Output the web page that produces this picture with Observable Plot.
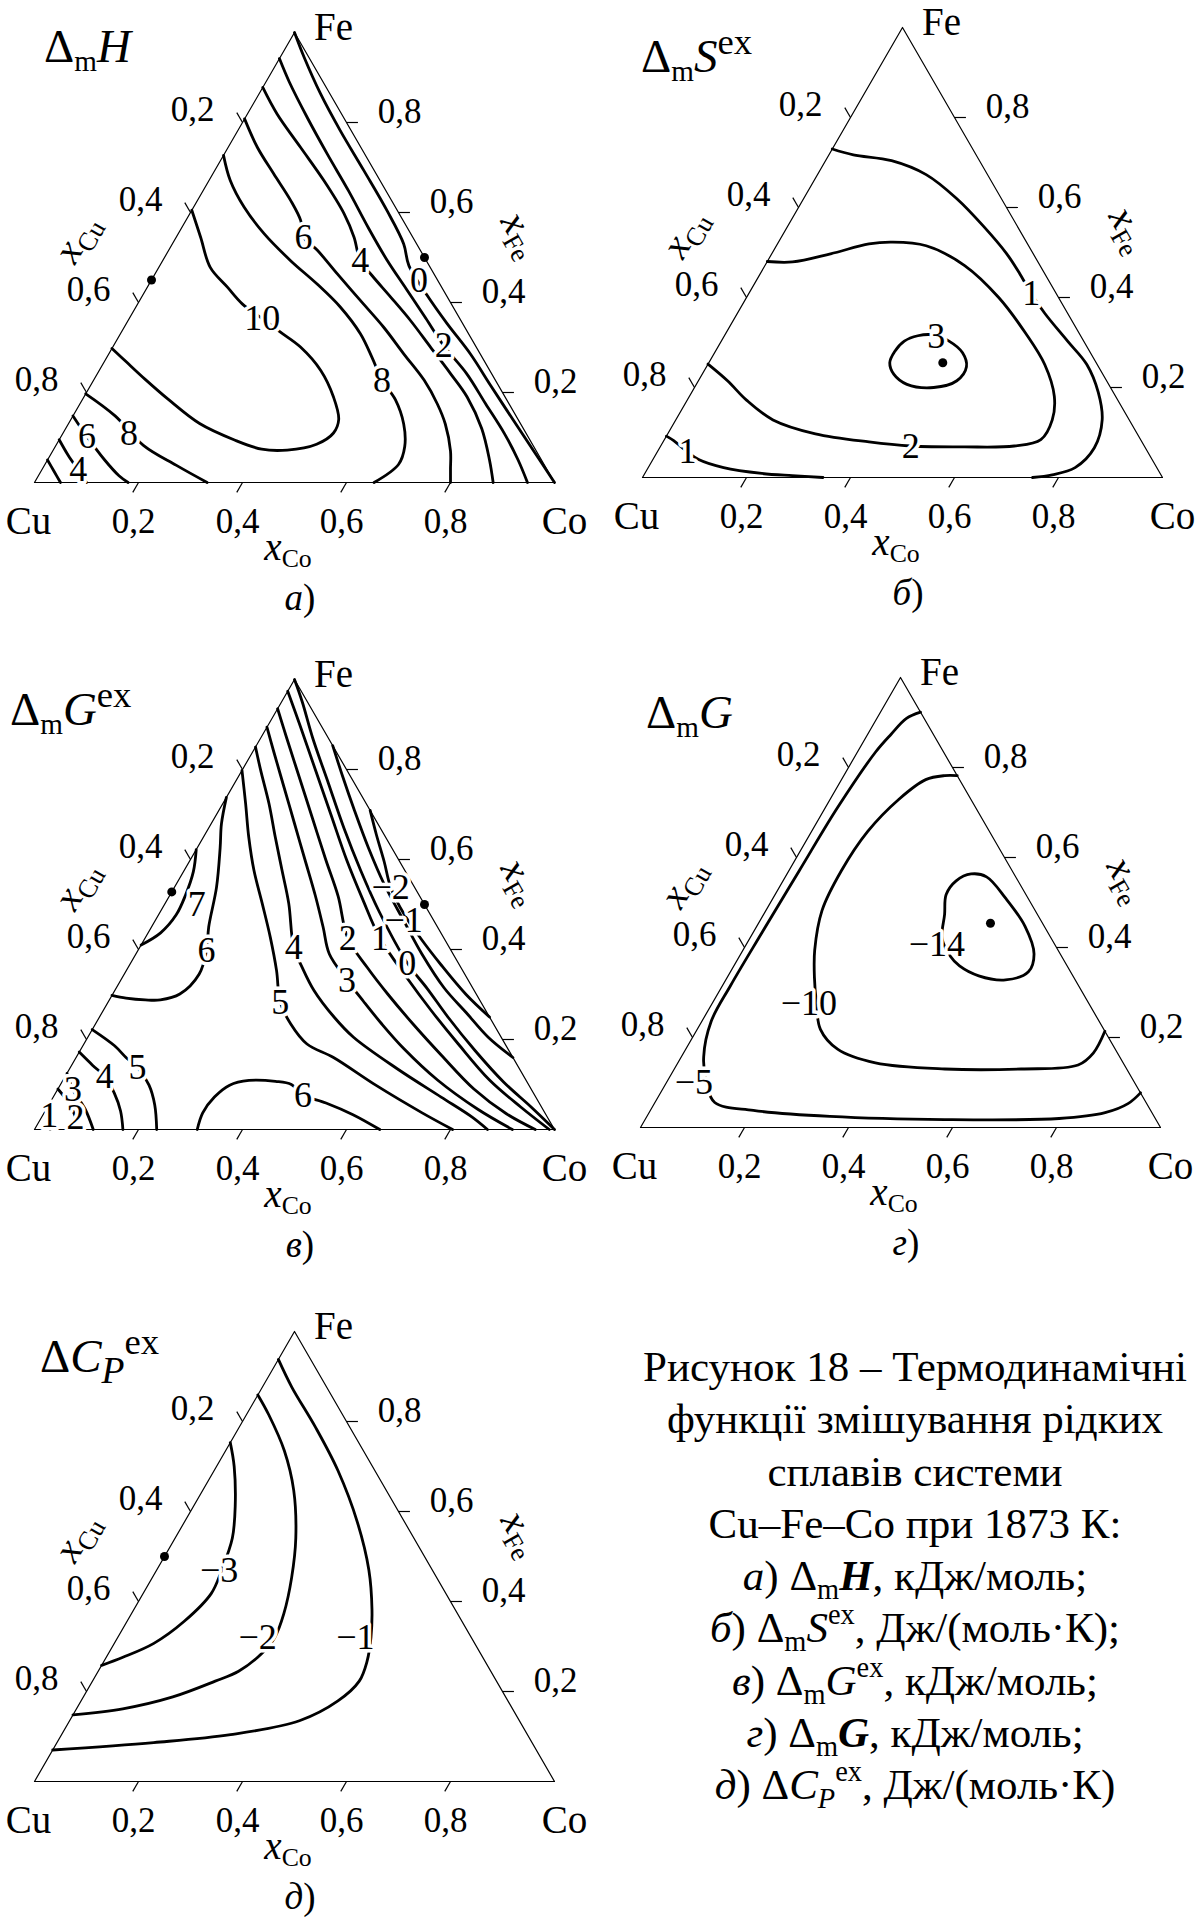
<!DOCTYPE html>
<html lang="uk">
<head>
<meta charset="utf-8">
<title>Cu–Fe–Co, 1873 K</title>
<script src="https://cdn.jsdelivr.net/npm/d3@7"></script>
<script src="https://cdn.jsdelivr.net/npm/@observablehq/plot@0.6"></script>
<style>
  html, body { margin: 0; padding: 0; background: #fff; }
  #figure { position: relative; width: 1199px; height: 1922px; overflow: hidden;
            font-family: "Liberation Serif", "Times New Roman", serif; color: #000; }
  .panel { position: absolute; width: 600px; height: 620px; }
  .panel > svg { position: absolute; left: 0; top: 0; overflow: visible; }
  .tag { position: absolute; white-space: nowrap; line-height: 1; }
  .sb { font-size: 0.66em; vertical-align: -0.3em; font-style: normal; line-height: 0; }
  .sp { font-size: 0.66em; vertical-align: 0.62em; font-style: normal; line-height: 0; }
  .ttl .sb { font-size: 0.62em; }
  .ttl .sp { font-size: 0.78em; vertical-align: 0.5em; }
  #caption { position: absolute; left: 630px; width: 570px; top: 1341px; text-align: center;
             font-size: 43px; line-height: 52.3px; white-space: nowrap; }
</style>
</head>
<body>
<div id="figure"></div>
<script>
// Axis ticks shared by every triangle
const tickValues = [0.2, 0.4, 0.6, 0.8];
const tickLabels = ["0,2", "0,4", "0,6", "0,8"];
const cornerNames = ["Cu", "Co", "Fe"];

// Every isoline is a list of [xCo, xFe] compositions (xCu = 1 − xCo − xFe)

// а) ΔmH, kJ/mol
const H_0 = [[0,1],[0.046,0.945],[0.118,0.864],[0.197,0.782],[0.287,0.693],[0.376,0.604],[0.445,0.53],[0.479,0.482],[0.547,0.416],[0.617,0.353],[0.695,0.286],[0.77,0.215],[0.85,0.14],[0.925,0.07],[1,0]];
const H_2 = [[0,0.942],[0.045,0.89],[0.12,0.81],[0.2,0.728],[0.28,0.648],[0.36,0.565],[0.43,0.495],[0.5,0.43],[0.57,0.365],[0.635,0.304],[0.71,0.242],[0.78,0.175],[0.85,0.108],[0.905,0.05],[0.948,0]];
const H_4 = [[0,0.878],[0.057,0.819],[0.139,0.745],[0.221,0.671],[0.297,0.597],[0.342,0.545],[0.38,0.493],[0.419,0.46],[0.479,0.412],[0.543,0.36],[0.611,0.301],[0.679,0.242],[0.737,0.19],[0.8,0.12],[0.85,0.05],[0.882,0]];
const H_6 = [[0,0.808],[0.056,0.745],[0.117,0.686],[0.179,0.627],[0.221,0.582],[0.245,0.545],[0.286,0.516],[0.35,0.464],[0.425,0.404],[0.499,0.345],[0.567,0.286],[0.636,0.227],[0.687,0.175],[0.725,0.13],[0.765,0.07],[0.785,0.03],[0.8,0]];
const H_8 = [[0,0.727],[0.041,0.671],[0.097,0.612],[0.165,0.553],[0.246,0.493],[0.323,0.441],[0.393,0.39],[0.462,0.33],[0.51,0.278],[0.555,0.227],[0.602,0.184],[0.645,0.13],[0.672,0.08],[0.68,0.04],[0.653,0]];
const H_10 = [[0,0.605],[0.047,0.545],[0.099,0.478],[0.154,0.434],[0.201,0.397],[0.256,0.364],[0.306,0.334],[0.361,0.301],[0.426,0.249],[0.48,0.19],[0.515,0.14],[0.52,0.11],[0.5,0.085],[0.45,0.072],[0.4,0.074],[0.336,0.095],[0.252,0.131],[0.166,0.184],[0.1,0.228],[0.044,0.267],[0,0.298]];
const H_8cu = [[0,0.197],[0.081,0.148],[0.169,0.082],[0.254,0.038],[0.332,0]];
const H_6cu = [[0,0.148],[0.05,0.102],[0.11,0.05],[0.155,0.015],[0.18,0]];
const H_4cu = [[0,0.095],[0.035,0.06],[0.07,0.028],[0.1,0]];
const H_2cu = [[0,0.05],[0.025,0.025],[0.05,0]];
const H_labels = [["0",0.515,0.449],["2",0.635,0.304],["4",0.38,0.493],["6",0.245,0.545],["8",0.555,0.227],["10",0.256,0.364],["8",0.127,0.109],["6",0.05,0.102],["4",0.07,0.028]];
const H_dots = [[0,0.45],[0.5,0.5]];

// б) ΔmS^ex, J/(mol·K)
const S_1 = [[0,0.73],[0.047,0.717],[0.127,0.704],[0.209,0.673],[0.294,0.62],[0.377,0.558],[0.452,0.497],[0.499,0.453],[0.543,0.409],[0.591,0.365],[0.666,0.303],[0.729,0.251],[0.782,0.189],[0.82,0.128],[0.836,0.066],[0.821,0.022],[0.785,0.006],[0.75,0]];
const S_1cu = [[0,0.092],[0.019,0.082],[0.058,0.057],[0.088,0.04],[0.145,0.022],[0.225,0.009],[0.286,0.004],[0.347,0]];
const S_2 = [[0,0.48],[0.049,0.479],[0.113,0.497],[0.176,0.519],[0.218,0.523],[0.288,0.515],[0.384,0.471],[0.485,0.4],[0.576,0.321],[0.648,0.251],[0.702,0.18],[0.724,0.128],[0.724,0.084],[0.68,0.07],[0.585,0.068],[0.481,0.07],[0.396,0.079],[0.284,0.097],[0.187,0.128],[0.114,0.172],[0.056,0.215],[0,0.252]];
const S_3 = [[0.345,0.28],[0.352,0.303],[0.372,0.315],[0.4,0.317],[0.438,0.303],[0.477,0.277],[0.5,0.246],[0.497,0.215],[0.46,0.2],[0.405,0.207],[0.369,0.229],[0.348,0.255]];
const S_labels = [["1",0.543,0.409],["1",0.058,0.057],["2",0.481,0.07],["3",0.408,0.314]];
const S_dots = [[0.45,0.255]];

// в) ΔmG^ex, kJ/mol
const Gx_m2 = [[0.291,0.709],[0.33,0.655],[0.375,0.595],[0.416,0.538],[0.47,0.48],[0.53,0.425],[0.6,0.365],[0.68,0.3],[0.75,0.25]];
const Gx_m1 = [[0.147,0.853],[0.2,0.785],[0.26,0.71],[0.33,0.625],[0.4,0.545],[0.478,0.464],[0.55,0.39],[0.63,0.315],[0.7,0.26],[0.77,0.205],[0.84,0.16]];
const Gx_0 = [[0,1],[0.04,0.95],[0.1,0.87],[0.18,0.77],[0.26,0.67],[0.34,0.575],[0.42,0.485],[0.532,0.37],[0.6,0.312],[0.67,0.25],[0.76,0.175],[0.85,0.105],[0.93,0.05],[1,0]];
const Gx_1 = [[0,0.974],[0.06,0.9],[0.14,0.8],[0.22,0.7],[0.3,0.6],[0.375,0.512],[0.452,0.425],[0.55,0.335],[0.63,0.265],[0.72,0.19],[0.82,0.11],[0.91,0.05],[0.99,0]];
const Gx_2 = [[0,0.935],[0.05,0.87],[0.12,0.78],[0.19,0.69],[0.26,0.6],[0.325,0.518],[0.39,0.425],[0.46,0.36],[0.53,0.3],[0.61,0.235],[0.7,0.165],[0.8,0.09],[0.89,0.035],[0.963,0]];
const Gx_3 = [[0,0.894],[0.04,0.84],[0.1,0.76],[0.16,0.68],[0.22,0.6],[0.28,0.52],[0.33,0.45],[0.372,0.39],[0.435,0.332],[0.49,0.285],[0.55,0.235],[0.62,0.18],[0.72,0.11],[0.83,0.045],[0.919,0]];
const Gx_4 = [[0,0.85],[0.036,0.798],[0.089,0.724],[0.138,0.65],[0.188,0.576],[0.238,0.502],[0.296,0.405],[0.334,0.361],[0.383,0.309],[0.451,0.25],[0.511,0.205],[0.63,0.135],[0.746,0.072],[0.827,0.028],[0.871,0]];
const Gx_5 = [[0,0.798],[0.044,0.724],[0.087,0.65],[0.134,0.576],[0.187,0.502],[0.24,0.427],[0.289,0.353],[0.331,0.283],[0.375,0.235],[0.429,0.19],[0.495,0.16],[0.607,0.0985],[0.727,0.037],[0.804,0]];
const Gx_6 = [[0,0.738],[0.02,0.679],[0.044,0.626],[0.081,0.538],[0.11,0.45],[0.132,0.398],[0.144,0.345],[0.129,0.301],[0.098,0.288],[0.069,0.288],[0.03,0.292],[0,0.298]];
const Gx_7 = [[0,0.622],[0.019,0.573],[0.03,0.521],[0.034,0.477],[0.024,0.437],[0,0.41]];
const Gx_6co = [[0.313,0],[0.305,0.037],[0.31,0.072],[0.326,0.0985],[0.358,0.109],[0.41,0.107],[0.444,0.1],[0.478,0.0765],[0.531,0.059],[0.596,0.033],[0.664,0]];
const Gx_5cu = [[0,0.222],[0.061,0.186],[0.096,0.16],[0.129,0.138],[0.171,0.0985],[0.204,0.0545],[0.235,0]];
const Gx_4cu = [[0,0.172],[0.04,0.143],[0.076,0.118],[0.113,0.081],[0.145,0.041],[0.17,0]];
const Gx_3cu = [[0,0.125],[0.03,0.088],[0.075,0.045],[0.113,0]];
const Gx_2cu = [[0,0.09],[0.035,0.06],[0.066,0.026],[0.08,0]];
const Gx_1cu = [[0,0.05],[0.013,0.031],[0.03,0]];
const Gx_labels = [["−2",0.416,0.538],["−1",0.478,0.464],["0",0.532,0.37],["1",0.452,0.425],["2",0.39,0.425],["3",0.435,0.332],["4",0.296,0.405],["5",0.331,0.283],["6",0.132,0.398],["7",0.062,0.5],["6",0.478,0.0765],["5",0.129,0.138],["4",0.076,0.118],["3",0.03,0.088],["2",0.066,0.026],["1",0.013,0.031]];
const Gx_dots = [[0,0.528],[0.5,0.5]];

// г) ΔmG, kJ/mol
const G_m5 = [[0.077,0.923],[0.057,0.909],[0.045,0.874],[0.035,0.835],[0.0235,0.711],[0.02,0.57],[0.017,0.43],[0.0155,0.315],[0.018,0.236],[0.043,0.157],[0.08,0.095],[0.115,0.0555],[0.198,0.038],[0.352,0.0246],[0.576,0.0176],[0.795,0.02],[0.877,0.033],[0.911,0.053],[0.923,0.077]];
const G_m10 = [[0.218,0.782],[0.194,0.782],[0.162,0.773],[0.132,0.729],[0.108,0.658],[0.101,0.57],[0.108,0.482],[0.138,0.394],[0.168,0.333],[0.198,0.28],[0.237,0.218],[0.292,0.174],[0.38,0.1435],[0.52,0.13],[0.667,0.13],[0.772,0.139],[0.788,0.1655],[0.786,0.214]];
const G_m14 = [[0.348,0.4736],[0.329,0.5176],[0.333,0.548],[0.354,0.5634],[0.387,0.557],[0.448,0.509],[0.516,0.447],[0.564,0.3856],[0.573,0.346],[0.538,0.328],[0.482,0.337],[0.434,0.359],[0.405,0.381],[0.37,0.42]];
const G_labels = [["−5",0.053,0.0995],["−10",0.186,0.2755],["−14",0.366,0.4076]];
const G_dots = [[0.446,0.454]];

// д) ΔCP^ex, J/(mol·K)
const Cp_m1 = [[0,0.938],[0.057,0.876],[0.146,0.788],[0.238,0.691],[0.333,0.576],[0.408,0.47],[0.458,0.382],[0.487,0.32],[0.506,0.267],[0.513,0.223],[0.494,0.179],[0.442,0.135],[0.325,0.104],[0.186,0.0865],[0,0.07]];
const Cp_m2 = [[0,0.859],[0.043,0.815],[0.113,0.735],[0.175,0.647],[0.232,0.541],[0.268,0.453],[0.293,0.373],[0.302,0.32],[0.295,0.285],[0.27,0.245],[0.236,0.223],[0.172,0.188],[0.089,0.1615],[0,0.148]];
const Cp_m3 = [[0,0.753],[0.034,0.7],[0.08,0.612],[0.11,0.541],[0.125,0.47],[0.131,0.4175],[0.11,0.356],[0.076,0.307],[0.032,0.276],[0,0.258]];
const Cp_labels = [["−1",0.457,0.32],["−2",0.269,0.32],["−3",0.12,0.47]];
const Cp_dots = [[0,0.5]];

// Figure caption
const captionLines = [
  "Рисунок 18 – Термодинамічні",
  "функції змішування рідких",
  "сплавів системи",
  "Cu–Fe–Co при 1873 К:",
  '<i>а</i>) Δ<span class="sb">m</span><b><i>H</i></b>, кДж/моль;',
  '<i>б</i>) Δ<span class="sb">m</span><i>S</i><span class="sp">ex</span>, Дж/(моль·К);',
  '<i>в</i>) Δ<span class="sb">m</span><i>G</i><span class="sp">ex</span>, кДж/моль;',
  '<i>г</i>) Δ<span class="sb">m</span><b><i>G</i></b>, кДж/моль;',
  '<i>д</i>) Δ<i>C</i><span class="sb"><i>P</i></span><span class="sp">ex</span>, Дж/(моль·К)'
];

const panels = [
  {left: 0, top: 0, letter: "а", title: 'Δ<span class="sb">m</span><i>H</i>', titleX: 44, titleBase: 62,
   open: [H_0, H_2, H_4, H_6, H_8, H_10, H_8cu, H_6cu, H_4cu, H_2cu], closed: [], labels: H_labels, dots: H_dots},
  {left: 608, top: -5, letter: "б", title: 'Δ<span class="sb">m</span><i>S</i><span class="sp">ex</span>', titleX: 33, titleBase: 77,
   open: [S_1, S_1cu, S_2], closed: [S_3], labels: S_labels, dots: S_dots},
  {left: 0, top: 647, letter: "в", title: 'Δ<span class="sb">m</span><i>G</i><span class="sp">ex</span>', titleX: 10, titleBase: 78,
   open: [Gx_m2, Gx_m1, Gx_0, Gx_1, Gx_2, Gx_3, Gx_4, Gx_5, Gx_6, Gx_7, Gx_6co, Gx_5cu, Gx_4cu, Gx_3cu, Gx_2cu, Gx_1cu], closed: [], labels: Gx_labels, dots: Gx_dots},
  {left: 606, top: 645, letter: "г", title: 'Δ<span class="sb">m</span><i>G</i>', titleX: 40, titleBase: 83,
   open: [G_m5, G_m10], closed: [G_m14], labels: G_labels, dots: G_dots},
  {left: 0, top: 1299, letter: "д", title: 'Δ<i>C</i><span class="sb" style="font-size:0.8em;vertical-align:-0.28em"><i>P</i></span><span class="sp">ex</span>', titleX: 40, titleBase: 73,
   open: [Cp_m1, Cp_m2, Cp_m3], closed: [], labels: Cp_labels, dots: Cp_dots}
];

const FONT = '"Liberation Serif", "Times New Roman", serif';
const TICK = 0.022;
// composition -> ternary plane (Cu at origin, Co at x = 1, Fe at the apex)
const tern = (co, fe) => ({x: co + fe / 2, y: fe});
const rows = (lines) => lines.flatMap((pts, i) => pts.map(([co, fe]) => ({...tern(co, fe), id: i})));

const fig = document.getElementById("figure");

function tag(parent, html, x, y, size, opts = {}) {
  const el = document.createElement("div");
  el.className = "tag" + (opts.cls ? " " + opts.cls : "");
  el.innerHTML = html;
  el.style.fontSize = size + "px";
  if (opts.baseline) {
    el.style.left = x + "px";
    el.style.top = (y - 0.84 * size) + "px";
  } else {
    el.style.left = x + "px";
    el.style.top = y + "px";
    el.style.transform = `translate(-50%,-50%) rotate(${opts.rotate || 0}deg)`;
  }
  parent.appendChild(el);
}

for (const p of panels) {
  const div = document.createElement("div");
  div.className = "panel";
  div.style.left = p.left + "px";
  div.style.top = p.top + "px";
  fig.appendChild(div);

  const frame = [tern(0, 0), tern(1, 0), tern(0, 1)];
  const ticks = tickValues.flatMap((k) => [
    {a: tern(k, 0), b: tern(k, -TICK)},                 // xCo on the base
    {a: tern(0, 1 - k), b: tern(-TICK, 1 - k + TICK)},  // xCu on the left side
    {a: tern(1 - k, k), b: tern(1 - k + TICK, k)}       // xFe on the right side
  ]);
  const labelRows = p.labels.map(([t, co, fe]) => ({t, ...tern(co, fe)}));
  const dotRows = p.dots.map(([co, fe]) => tern(co, fe));
  const cornerMark = (i, co, fe, dx, dy) =>
    Plot.text([{t: cornerNames[i], ...tern(co, fe)}], {x: "x", y: "y", text: "t", dx, dy, fontSize: 39, fill: "#000"});

  const chart = Plot.plot({
    width: 600, height: 620, margin: 0,
    x: {domain: [0, 1], range: [34, 554], axis: null},
    y: {domain: [0, 1], range: [482, 32], axis: null},
    style: {fontFamily: FONT, background: "transparent", overflow: "visible"},
    marks: [
      Plot.line(frame, {x: "x", y: "y", curve: "linear-closed", stroke: "#000", strokeWidth: 1.2}),
      Plot.link(ticks, {x1: (d) => d.a.x, y1: (d) => d.a.y, x2: (d) => d.b.x, y2: (d) => d.b.y, stroke: "#000", strokeWidth: 1.2}),
      Plot.line(rows(p.open), {x: "x", y: "y", z: "id", curve: "catmull-rom", stroke: "#000", strokeWidth: 2.8}),
      Plot.line(rows(p.closed), {x: "x", y: "y", z: "id", curve: "catmull-rom-closed", stroke: "#000", strokeWidth: 2.8}),
      Plot.text(labelRows, {x: "x", y: "y", text: "t", fontSize: 36, fill: "#000", stroke: "#fff", strokeWidth: 7}),
      Plot.dot(dotRows, {x: "x", y: "y", r: 4.5, fill: "#000"}),
      Plot.text(tickValues, {x: (k) => k, y: 0, text: (k, i) => tickLabels[i], dx: -5, dy: 39, fontSize: 35, fill: "#000"}),
      Plot.text(tickValues, {x: (k) => (1 - k) / 2, y: (k) => 1 - k, text: (k, i) => tickLabels[i], dx: -50, dy: -13, fontSize: 35, fill: "#000"}),
      Plot.text(tickValues, {x: (k) => 1 - k / 2, y: (k) => k, text: (k, i) => tickLabels[i], dx: 53, dy: -11, fontSize: 35, fill: "#000"}),
      cornerMark(0, 0, 0, -6, 39),
      cornerMark(1, 1, 0, 10, 39),
      cornerMark(2, 0, 1, 39, -5)
    ]
  });
  div.appendChild(chart);

  // rich labels (subscripts / superscripts)
  tag(div, p.title, p.titleX, p.titleBase, 47, {baseline: true, cls: "ttl"});
  tag(div, '<i>x</i><span class="sb">Cu</span>', 76, 238, 40, {rotate: -60});
  tag(div, '<i>x</i><span class="sb">Fe</span>', 522, 234, 40, {rotate: 60});
  tag(div, '<i>x</i><span class="sb">Co</span>', 288, 546, 39);
  tag(div, `<i>${p.letter}</i>)`, 300, 597, 37);
}

const cap = document.createElement("div");
cap.id = "caption";
cap.innerHTML = captionLines.map((l) => `<div>${l}</div>`).join("");
fig.appendChild(cap);
</script>
</body>
</html>
